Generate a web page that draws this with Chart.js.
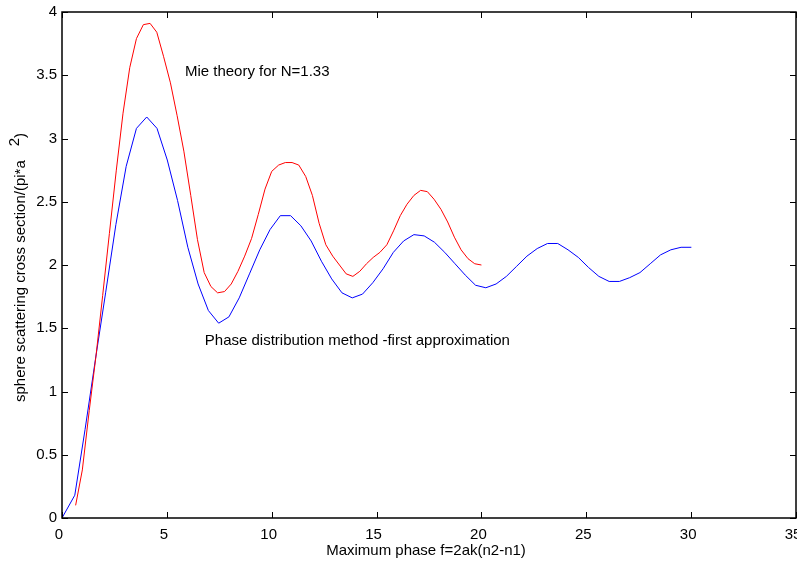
<!DOCTYPE html>
<html>
<head>
<meta charset="utf-8">
<script src="https://cdn.jsdelivr.net/npm/chart.js@4"></script>
<style>
  html, body { margin: 0; padding: 0; background: #fff; }
  #wrap { width: 797px; height: 563px; position: relative; }
</style>
</head>
<body>
<div id="wrap"><canvas id="plot"></canvas></div>
<script>
// ===== DATA =====
const mieX = [0.65, 0.97, 1.30, 1.62, 1.94, 2.26, 2.59, 2.91, 3.23, 3.55, 3.88, 4.20, 4.52, 4.84, 5.17, 5.49, 5.81, 6.14, 6.46, 6.78,
  7.10, 7.42, 7.75, 8.07, 8.39, 8.71, 9.04, 9.36, 9.68, 10.00, 10.33, 10.65, 10.97, 11.29, 11.62, 11.94, 12.26, 12.58, 12.91, 13.23,
  13.55, 13.87, 14.20, 14.52, 14.84, 15.16, 15.49, 15.81, 16.13, 16.45, 16.78, 17.10, 17.42, 17.74, 18.07, 18.39, 18.71, 19.03, 19.36, 19.68, 20.00];
const mieY = [0.10, 0.38, 0.85, 1.28, 1.76, 2.25, 2.75, 3.20, 3.56, 3.79, 3.90, 3.91, 3.84, 3.65, 3.44, 3.18, 2.90, 2.55, 2.20, 1.94,
  1.83, 1.78, 1.79, 1.85, 1.95, 2.07, 2.21, 2.40, 2.60, 2.74, 2.79, 2.81, 2.81, 2.79, 2.70, 2.55, 2.33, 2.16, 2.07, 2.00,
  1.93, 1.91, 1.95, 2.01, 2.06, 2.10, 2.16, 2.27, 2.39, 2.48, 2.55, 2.59, 2.58, 2.52, 2.44, 2.34, 2.22, 2.12, 2.05, 2.01, 2.00];

const phaseX = [0, 0.61, 1.10, 1.59, 2.08, 2.57, 3.06, 3.55, 4.04, 4.53, 5.02, 5.51, 6.00, 6.49, 6.98, 7.47, 7.96, 8.45, 8.94, 9.43,
  9.92, 10.41, 10.90, 11.39, 11.88, 12.37, 12.86, 13.35, 13.84, 14.33, 14.82, 15.31, 15.80, 16.29, 16.78, 17.27, 17.76, 18.25, 18.74, 19.23,
  19.72, 20.21, 20.70, 21.19, 21.68, 22.17, 22.66, 23.15, 23.64, 24.13, 24.62, 25.11, 25.60, 26.09, 26.58, 27.07, 27.56, 28.05, 28.54, 29.03,
  29.52, 30.01];
const phaseY = [0, 0.18, 0.70, 1.25, 1.78, 2.32, 2.78, 3.08, 3.17, 3.08, 2.83, 2.51, 2.14, 1.85, 1.64, 1.54, 1.59, 1.74, 1.93, 2.12,
  2.28, 2.39, 2.39, 2.31, 2.19, 2.03, 1.89, 1.78, 1.74, 1.77, 1.86, 1.97, 2.10, 2.19, 2.24, 2.23, 2.18, 2.10, 2.01, 1.92,
  1.84, 1.82, 1.85, 1.91, 1.99, 2.07, 2.13, 2.17, 2.17, 2.12, 2.06, 1.98, 1.91, 1.87, 1.87, 1.90, 1.94, 2.01, 2.08, 2.12,
  2.14, 2.14];

const xTicks = [0, 5, 10, 15, 20, 25, 30, 35];
const yTicks = [0, 0.5, 1, 1.5, 2, 2.5, 3, 3.5, 4];

const FONT = "Liberation Sans, Arial, sans-serif";

// box, inward ticks, labels in the plot
const framePlugin = {
    id: "frame",
    afterDraw(chart) {
        const ctx = chart.ctx;
        const a = chart.chartArea;
        const xs = chart.scales.x, ys = chart.scales.y;
        ctx.save();
        ctx.strokeStyle = "#000";
        ctx.lineWidth = 1;
        ctx.beginPath();
        xTicks.forEach(v => {
            const p = Math.round(xs.getPixelForValue(v)) + 0.5;
            ctx.moveTo(p, a.bottom); ctx.lineTo(p, a.bottom - 6);
            ctx.moveTo(p, a.top); ctx.lineTo(p, a.top + 6);
        });
        yTicks.forEach(v => {
            const p = Math.round(ys.getPixelForValue(v)) + 0.5;
            ctx.moveTo(a.left, p); ctx.lineTo(a.left + 6, p);
            ctx.moveTo(a.right, p); ctx.lineTo(a.right - 6, p);
        });
        ctx.stroke();
        ctx.lineWidth = 1.5;
        ctx.strokeRect(a.left, a.top, a.right - a.left, a.bottom - a.top);

        ctx.fillStyle = "#000";
        ctx.font = "15px " + FONT;
        ctx.textBaseline = "middle";
        ctx.textAlign = "left";
        ctx.fillText("Mie theory for N=1.33", xs.getPixelForValue(5.86), ys.getPixelForValue(3.53));
        ctx.fillText("Phase distribution method -first approximation", xs.getPixelForValue(6.81), ys.getPixelForValue(1.40));

        // x title
        ctx.textAlign = "center";
        ctx.fillText("Maximum phase f=2ak(n2-n1)", (a.left + a.right) / 2 - 3, 551);

        // y title with raised 2
        ctx.translate(21, 402);
        ctx.rotate(-Math.PI / 2);
        ctx.textAlign = "left";
        const main = "sphere scattering cross section/(pi*a";
        const w = ctx.measureText(main).width;
        ctx.fillText(main, 0, 0);
        ctx.fillText("2", w + 14, -6);
        ctx.fillText(")", w + 14 + ctx.measureText("2").width, 0);
        ctx.restore();
    }
};

document.addEventListener("DOMContentLoaded", function () {
    const ctx = document.getElementById("plot").getContext("2d");
    new Chart(ctx, {
        type: "line",
        data: {
            datasets: [
                {
                    label: "Mie theory",
                    data: mieX.map((x, i) => ({ x: x, y: mieY[i] })),
                    borderColor: "#ff0000",
                    borderWidth: 1,
                    pointRadius: 0,
                    tension: 0,
                    fill: false
                },
                {
                    label: "Phase distribution",
                    data: phaseX.map((x, i) => ({ x: x, y: phaseY[i] })),
                    borderColor: "#0000ff",
                    borderWidth: 1,
                    pointRadius: 0,
                    tension: 0,
                    fill: false
                }
            ]
        },
        options: {
            responsive: true,
            maintainAspectRatio: false,
            animation: false,
            layout: { padding: { top: 12, right: 1, left: 0, bottom: 0 } },
            plugins: {
                legend: { display: false },
                tooltip: { enabled: false }
            },
            scales: {
                x: {
                    type: "linear",
                    min: 0,
                    max: 35,
                    afterBuildTicks: s => { s.ticks = xTicks.map(v => ({ value: v })); },
                    afterFit: s => { s.height = 45; s.paddingLeft = 0; s.paddingRight = 0; },
                    grid: { display: false, drawTicks: false },
                    border: { display: false },
                    ticks: {
                        color: "#000", padding: 8, labelOffset: -3, maxRotation: 0, autoSkip: false,
                        font: { size: 15, family: FONT },
                        callback: v => String(v)
                    }
                },
                y: {
                    min: 0,
                    max: 4,
                    afterBuildTicks: s => { s.ticks = yTicks.map(v => ({ value: v })); },
                    afterFit: s => { s.width = 62; s.paddingTop = 0; s.paddingBottom = 0; },
                    grid: { display: false, drawTicks: false },
                    border: { display: false },
                    ticks: {
                        color: "#000", padding: 5, autoSkip: false,
                        font: { size: 15, family: FONT },
                        callback: v => String(v)
                    }
                }
            }
        },
        plugins: [framePlugin]
    });
});
</script>
</body>
</html>
